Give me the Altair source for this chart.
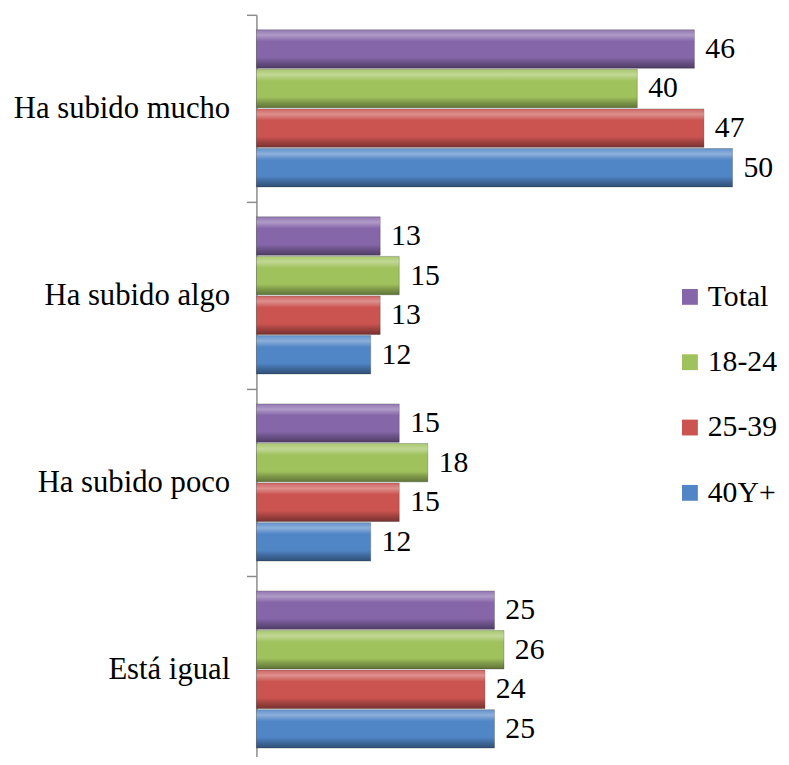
import altair as alt
import pandas as pd

categories = ["Ha subido mucho", "Ha subido algo", "Ha subido poco", "Está igual"]
series = ["Total", "18-24", "25-39", "40Y+"]
total = [46, 13, 15, 25]
age_18_24 = [40, 15, 18, 26]
age_25_39 = [47, 13, 15, 24]
age_40_plus = [50, 12, 12, 25]
colors = ["#8566a9", "#a0c25d", "#cb5450", "#5085c6"]

values = [total, age_18_24, age_25_39, age_40_plus]
rows = []
for s, vals in zip(series, values):
    for c, v in zip(categories, vals):
        rows.append({"cat": c, "series": s, "value": v})
df = pd.DataFrame(rows)

font = "Liberation Serif, Times New Roman, serif"

y_enc = alt.Y(
    "cat:N",
    sort=categories,
    scale=alt.Scale(paddingInner=0, paddingOuter=0, range=[0, 756]),
    axis=alt.Axis(
        title=None,
        labelFont=font,
        labelFontSize=31,
        labelColor="black",
        labelPadding=17,
        labelLimit=0,
        domainColor="#8c8c8c",
        domainWidth=1.5,
        tickColor="#8c8c8c",
        tickWidth=1.5,
        tickSize=10,
        tickBand="extent",
        grid=False,
    ),
)
yoff_enc = alt.YOffset("series:N", sort=series, scale=alt.Scale(paddingInner=0.03, paddingOuter=0.378))
x_enc = alt.X("value:Q", scale=alt.Scale(domain=[0, 52.6]), axis=None)

bars = alt.Chart(df).mark_bar(stroke="#3a3a3a", strokeWidth=0.6, strokeOpacity=0.5).encode(
    x=x_enc,
    y=y_enc,
    yOffset=yoff_enc,
    color=alt.Color(
        "series:N",
        sort=series,
        scale=alt.Scale(domain=series, range=colors),
        legend=alt.Legend(
            title=None,
            orient="none",
            legendX=423,
            legendY=270,
            labelFont=font,
            labelFontSize=30,
            labelColor="black",
            symbolType="square",
            symbolSize=256,
            symbolStrokeWidth=0,
            rowPadding=36,
            labelOffset=3,
        ),
    ),
)

shade = alt.Chart(df).mark_bar(
    color=alt.LinearGradient(
        gradient="linear",
        x1=0, x2=0, y1=0, y2=1,
        stops=[
            alt.GradientStop(color="rgba(255,255,255,0.10)", offset=0),
            alt.GradientStop(color="rgba(255,255,255,0.35)", offset=0.14),
            alt.GradientStop(color="rgba(255,255,255,0.0)", offset=0.3),
            alt.GradientStop(color="rgba(0,0,0,0.0)", offset=0.72),
            alt.GradientStop(color="rgba(0,0,0,0.22)", offset=0.86),
            alt.GradientStop(color="rgba(0,0,0,0.40)", offset=1),
        ],
    )
).encode(x=x_enc, y=y_enc, yOffset=yoff_enc)

labels = alt.Chart(df).mark_text(
    align="left", baseline="middle", dx=11, font=font, fontSize=30, color="black"
).encode(x=x_enc, y=y_enc, yOffset=yoff_enc, text="value:Q")

chart = (
    alt.layer(bars, shade, labels)
    .properties(
        width=506,
        height=746,
        autosize=alt.AutoSizeParams(type="none"),
        padding={"left": 251, "top": 3, "right": 24, "bottom": 0},
    )
    .configure_view(stroke=None)
)

chart.save("out.html", embed_options={"renderer": "svg", "actions": False})
